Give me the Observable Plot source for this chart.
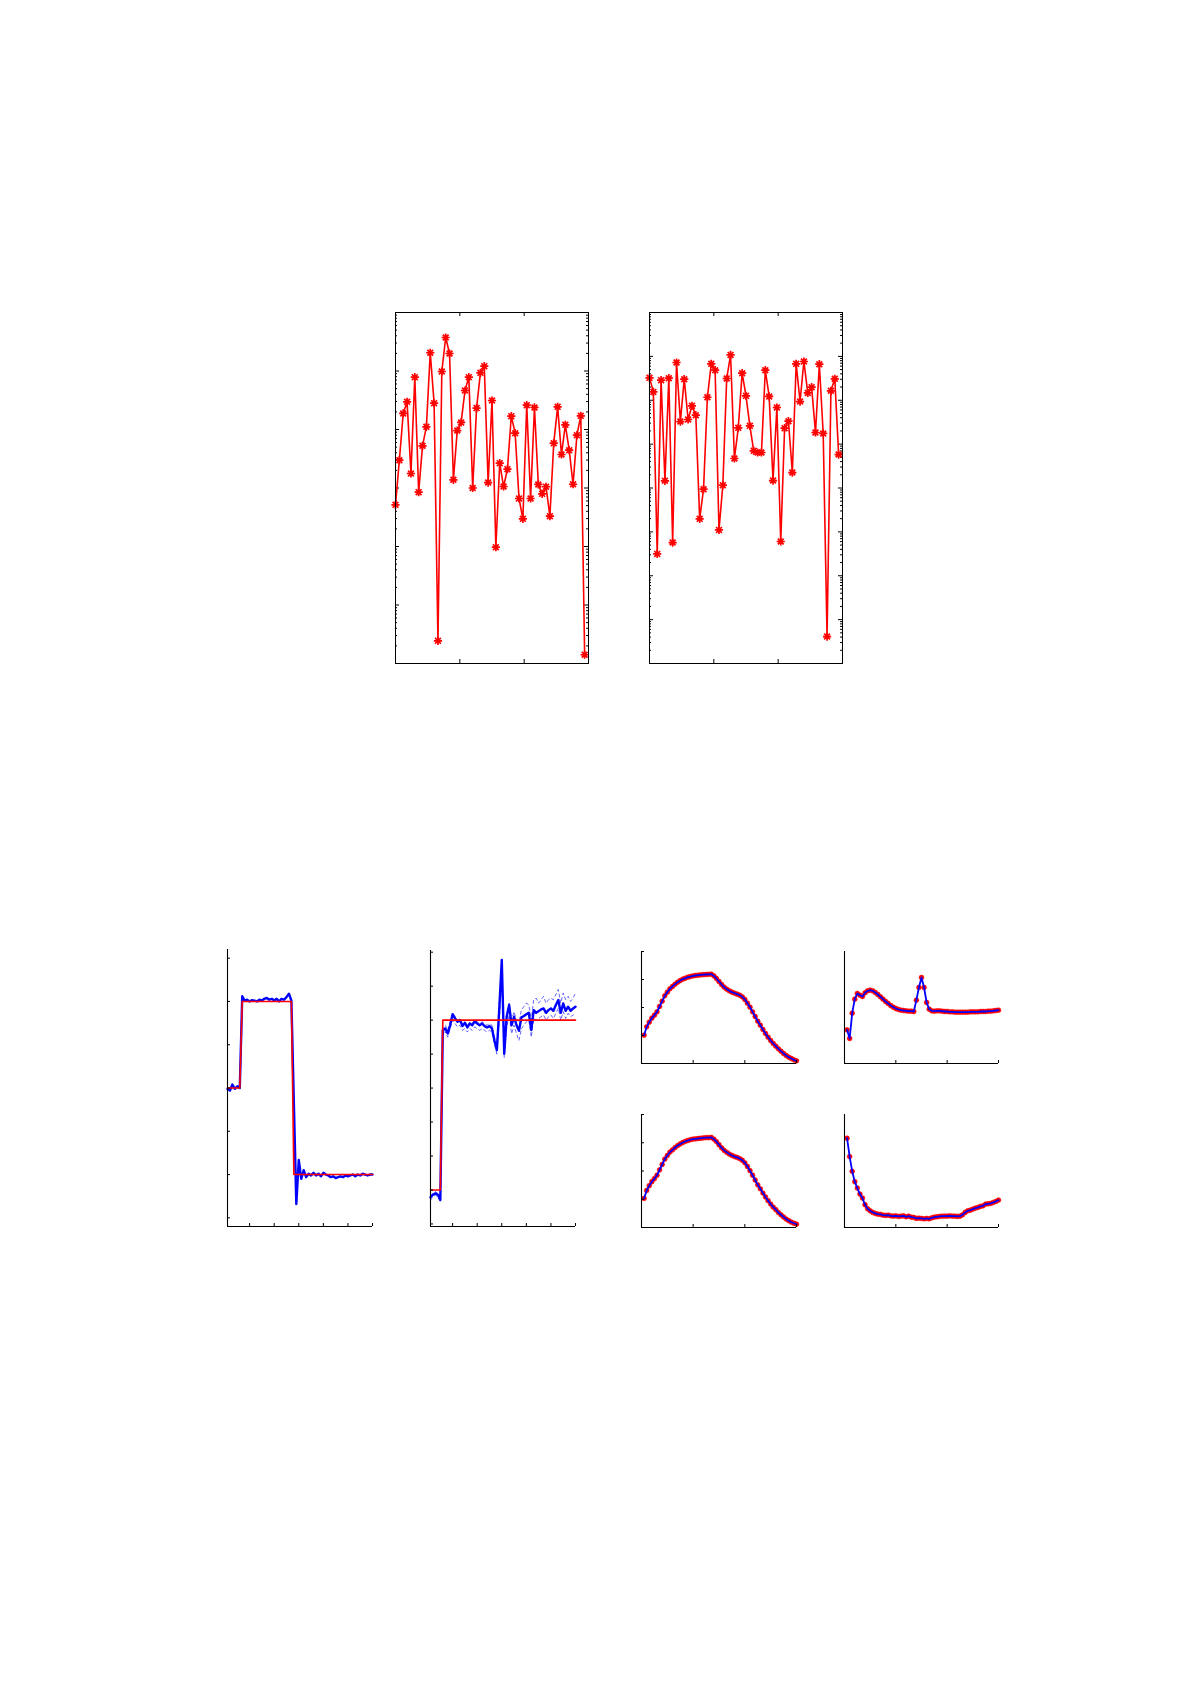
<!DOCTYPE html>
<html><head><meta charset="utf-8">
<script src="https://cdn.jsdelivr.net/npm/d3@7"></script>
<script src="https://cdn.jsdelivr.net/npm/@observablehq/plot@0.6"></script>
<style>
html,body{margin:0;padding:0;background:#fff;}
#page{position:relative;width:1191px;height:1685px;background:#fff;overflow:hidden;}
</style></head>
<body><div id="page"></div>
<script>
// ---------- data ----------
// top row: error per iteration (log scale)
const errLeft = [5.15e-4, 2.99e-3, 1.88e-2, 2.97e-2, 1.77e-3, 7.85e-2, 8.49e-4, 5.26e-3, 1.11e-2, 0.205,
  2.82e-2, 2.44e-6, 9.8e-2, 0.374, 0.199, 1.38e-3, 9.6e-3, 1.32e-2, 4.64e-2, 7.85e-2,
  1.0e-3, 2.32e-2, 9.3e-2, 0.121, 1.24e-3, 3.13e-2, 9.74e-5, 2.66e-3, 1.06e-3, 2.10e-3,
  1.69e-2, 8.65e-3, 6.62e-4, 2.97e-4, 2.61e-2, 6.62e-4, 2.38e-2, 1.15e-3, 7.95e-4, 1.05e-3,
  3.30e-4, 5.84e-3, 2.44e-2, 3.74e-3, 1.20e-2, 4.43e-3, 1.16e-3, 8.0e-3, 1.71e-2, 1.41e-6];
const errRight = [3.24e-2, 1.55e-2, 3.15e-6, 2.87e-2, 1.46e-4, 3.18e-2, 5.71e-6, 7.25e-2, 3.27e-3, 3.02e-2,
  3.64e-3, 7.45e-3, 4.57e-3, 1.98e-5, 9.4e-5, 1.17e-2, 6.76e-2, 4.84e-2, 1.11e-5, 1.16e-4,
  3.13e-2, 0.108, 4.70e-4, 2.35e-3, 4.14e-2, 1.26e-2, 2.61e-3, 7.03e-4, 6.44e-4, 6.44e-4,
  4.84e-2, 1.22e-2, 1.48e-4, 6.83e-3, 6.03e-6, 2.31e-3, 3.33e-3, 2.25e-4, 6.76e-2, 9.35e-3,
  7.64e-2, 1.47e-2, 1.99e-2, 1.84e-3, 6.64e-2, 1.75e-3, 4.11e-8, 1.64e-2, 3.08e-2, 5.79e-4];
const errLeftDomain = [1e-6, 1];
const errRightDomain = [1e-8, 1];
const iterTicks = [50 / 3, 100 / 3];

// bottom row, first two panels: reference step (red) and estimates (blue)
const stepRefA = [0,0,0,0,0,0, 1,1,1,1,1,1,1,1,1,1,1,1,1,1,1,1,1,1,1,1,1,
  -1,-1,-1,-1,-1,-1,-1,-1,-1,-1,-1,-1,-1,-1,-1,-1,-1,-1,-1,-1,-1,-1,-1,-1,-1,-1,-1,-1,-1,-1,-1,-1,-1,-1,-1];
const stepEstA = [-0.01,-0.03,0.04,-0.01,0.02,0.00,
  1.06,1.01,1.02,1.00,1.015,1.01,1.00,1.02,1.01,1.03,1.04,1.02,1.03,1.01,1.03,1.00,1.03,1.02,1.05,1.09,1.01,
  -0.17,-1.34,-0.83,-1.05,-0.95,-1.03,-0.99,-1.01,-0.98,-1.01,-0.99,-1.02,-0.98,-1.00,-1.01,-1.03,-1.02,-1.04,
  -1.03,-1.02,-1.03,-1.01,-1.02,-1.01,-1.00,-1.02,-1.00,-1.01,-0.99,-1.00,-1.01,-1.00,-1.00];
const stepRefB = [0,0,0,0,0, 1,1,1,1,1,1,1,1,1,1,1,1,1,1,1,1,1,1,1,1,1,1,1,1,1,
  1,1,1,1,1,1,1,1,1,1,1,1,1,1,1,1,1,1,1,1,1,1,1,1,1,1,1,1,1,1];
const stepEstB = [-0.043,-0.028,-0.02,-0.028,-0.059,
  0.941,0.951,0.921,0.970,1.035,1.010,0.990,1.0,0.965,0.984,0.957,0.980,0.970,0.994,0.980,
  0.970,0.980,0.965,0.957,0.965,0.951,0.882,0.823,1.069,1.354,0.803,1.020,1.089,0.970,1.020,
  0.970,0.937,1.016,1.024,1.035,1.043,0.941,1.059,1.043,1.053,1.063,1.069,1.043,1.059,1.069,
  1.055,1.089,1.118,1.043,1.098,1.055,1.079,1.055,1.069,1.079];
const stepUpperB = [-0.03,-0.02,-0.01,-0.02,-0.04,
  0.95,0.97,0.94,0.99,1.04,1.02,1.0,1.01,0.98,0.99,0.97,0.99,0.98,1.0,0.99,
  0.98,0.99,0.98,0.97,0.98,0.97,0.9,0.86,1.12,1.3,0.84,1.04,1.1,1.0,1.05,
  1.0,0.99,1.06,1.08,1.1,1.09,1.0,1.12,1.13,1.1,1.12,1.14,1.1,1.12,1.13,
  1.12,1.15,1.18,1.1,1.16,1.12,1.14,1.11,1.13,1.16];
const stepLowerB = [-0.06,-0.04,-0.03,-0.04,-0.07,
  0.93,0.93,0.9,0.95,1.0,0.98,0.96,0.97,0.94,0.95,0.93,0.95,0.94,0.96,0.95,
  0.94,0.95,0.94,0.93,0.94,0.93,0.86,0.8,1.0,1.25,0.78,0.96,1.03,0.92,0.97,
  0.92,0.88,0.95,0.97,0.99,1.0,0.9,1.01,1.0,1.01,1.02,1.03,1.0,1.02,1.03,
  1.01,1.04,1.07,1.0,1.05,1.01,1.04,1.02,1.03,1.04];
const sampleTicks = [10, 20, 30, 40, 50, 60];
const stepTicksA = [-1.5, -1, -0.5, 0, 0.5, 1, 1.5];
const stepTicksB = [-0.2, 0, 0.2, 0.4, 0.6, 0.8, 1.0, 1.2, 1.4];

// bottom row, four small panels
const rampCurve = [1.012,1.310,1.476,1.619,1.726,1.845,2.036,2.226,2.417,2.548,
  2.667,2.750,2.833,2.905,2.964,3.012,3.048,3.083,3.107,3.131,
  3.143,3.155,3.167,3.173,3.179,3.185,3.190,3.131,3.036,2.929,
  2.821,2.726,2.655,2.595,2.548,2.512,2.476,2.440,2.381,2.286,
  2.155,2.012,1.845,1.679,1.512,1.369,1.214,1.071,0.940,0.821,
  0.714,0.619,0.524,0.440,0.357,0.286,0.226,0.179,0.131,0.095];
const rampCurve2 = [1.03,1.31,1.48,1.62,1.73,1.85,2.04,2.23,2.42,2.55,
  2.67,2.75,2.83,2.90,2.96,3.01,3.05,3.08,3.11,3.13,
  3.14,3.15,3.16,3.17,3.18,3.18,3.19,3.13,3.04,2.93,
  2.82,2.73,2.66,2.60,2.55,2.51,2.48,2.44,2.38,2.29,
  2.16,2.01,1.85,1.68,1.51,1.37,1.22,1.08,0.95,0.83,
  0.72,0.63,0.53,0.45,0.37,0.30,0.24,0.19,0.15,0.118];
const peakCurve = [1.202,0.893,1.798,2.298,2.500,2.440,2.393,2.524,2.595,2.619,
  2.595,2.536,2.464,2.381,2.298,2.214,2.143,2.071,2.012,1.964,
  1.929,1.905,1.893,1.881,1.869,1.869,1.857,2.262,2.714,3.071,
  2.714,2.179,1.940,1.881,1.869,1.881,1.881,1.869,1.857,1.857,
  1.845,1.845,1.833,1.833,1.833,1.833,1.833,1.833,1.845,1.845,
  1.845,1.845,1.857,1.857,1.857,1.869,1.869,1.881,1.893,1.905];
const decayCurve = [3.160,2.509,1.988,1.621,1.396,1.183,1.041,0.805,0.663,0.592,
  0.533,0.497,0.473,0.462,0.438,0.426,0.438,0.414,0.402,0.414,
  0.391,0.402,0.414,0.379,0.402,0.367,0.355,0.320,0.331,0.320,
  0.308,0.320,0.308,0.343,0.367,0.379,0.391,0.402,0.402,0.402,
  0.414,0.402,0.402,0.391,0.402,0.450,0.533,0.592,0.615,0.651,
  0.686,0.710,0.746,0.769,0.828,0.840,0.852,0.888,0.923,0.970];
const timeTicks = [1, 2, 3];
const levelTicks = [0, 1, 2, 3, 4];

// ---------- helpers ----------
const page = document.getElementById("page");
const M = 8;
const RED = "#ff0000", BLUE = "#0000ff";

function panel({left, top, w, h, x, y, marks}) {
  const svg = Plot.plot({
    width: w + 2 * M, height: h + 2 * M,
    marginTop: M, marginBottom: M, marginLeft: M, marginRight: M,
    x: {...x, axis: null}, y: {...y, axis: null},
    style: {background: "transparent", overflow: "visible"},
    marks
  });
  svg.style.position = "absolute";
  svg.style.left = (left - M) + "px";
  svg.style.top = (top - M) + "px";
  page.appendChild(svg);
}
const tickStyle = {stroke: "#000", strokeWidth: 1};
const ticksBottom = (v, h, len) => Plot.tickX(v, {x: d => d, insetTop: h - len, ...tickStyle});
const ticksTop = (v, h, len) => Plot.tickX(v, {x: d => d, insetBottom: h - len, ...tickStyle});
const ticksLeft = (v, w, len) => Plot.tickY(v, {y: d => d, insetRight: w - len, ...tickStyle});
const ticksRight = (v, w, len) => Plot.tickY(v, {y: d => d, insetLeft: w - len, ...tickStyle});

const asterisk = {
  draw(ctx, size) {
    const r = Math.sqrt(size / Math.PI), d = r * Math.SQRT1_2;
    ctx.moveTo(-r, 0); ctx.lineTo(r, 0);
    ctx.moveTo(0, -r); ctx.lineTo(0, r);
    ctx.moveTo(-d, -d); ctx.lineTo(d, d);
    ctx.moveTo(-d, d); ctx.lineTo(d, -d);
  }
};

function logTicks(domain) {
  const lo = Math.round(Math.log10(domain[0])), hi = Math.round(Math.log10(domain[1]));
  const major = [], minor = [];
  for (let e = lo; e <= hi; e++) {
    major.push(Math.pow(10, e));
    if (e < hi) for (let m = 2; m <= 9; m++) minor.push(m * Math.pow(10, e));
  }
  return {major, minor};
}

function errorPanel(left, top, values, domain) {
  const w = 193, h = 351;
  const data = values.map((v, i) => ({i, v}));
  const {major, minor} = logTicks(domain);
  panel({
    left, top, w, h,
    x: {domain: [0, 50]},
    y: {type: "log", domain},
    marks: [
      ticksBottom(iterTicks, h, 4), ticksTop(iterTicks, h, 4),
      ticksLeft(major, w, 4), ticksRight(major, w, 4),
      ticksLeft(minor, w, 2), ticksRight(minor, w, 2),
      Plot.line(data, {x: "i", y: "v", stroke: RED, strokeWidth: 1.6, strokeLinejoin: "round"}),
      Plot.dot(data, {x: "i", y: "v", symbol: asterisk, r: 4.1, fill: "none", stroke: RED, strokeWidth: 1.7}),
      Plot.frame({stroke: "#000", strokeWidth: 1})
    ]
  });
}

function stepPanel(left, top, w, h, ref, est, dashed, domain, yTicks) {
  const k = d3.range(1, 61);
  const rows = arr => arr.map((v, i) => ({k: k[i], v}));
  const marks = [];
  for (const arr of dashed) marks.push(Plot.line(rows(arr), {x: "k", y: "v", stroke: BLUE, strokeWidth: 0.8, strokeDasharray: "3,3", strokeOpacity: 0.75}));
  marks.push(
    Plot.line(rows(est), {x: "k", y: "v", stroke: BLUE, strokeWidth: 2.4, strokeLinejoin: "round"}),
    Plot.line(rows(ref), {x: "k", y: "v", stroke: RED, strokeWidth: 1.6}),
    ticksBottom(sampleTicks, h, 3), ticksLeft(yTicks, w, 3),
    Plot.ruleX([1], {stroke: "#000", strokeWidth: 1.1}),
    Plot.ruleY([domain[0]], {stroke: "#000", strokeWidth: 1.1})
  );
  panel({left, top, w, h, x: {domain: [1, 60]}, y: {domain}, marks});
}

const tGrid = d3.range(1, 61).map(i => i * 0.05);
function smallPanel(left, top, w, h, curve, yTicks) {
  const data = curve.map((v, i) => ({t: tGrid[i], v}));
  panel({
    left, top, w, h,
    x: {domain: [0, 3]}, y: {domain: [0, 4]},
    marks: [
      Plot.dot(data, {x: "t", y: "v", r: 2.4, fill: RED, stroke: RED, strokeWidth: 0.6}),
      Plot.line(data, {x: "t", y: "v", stroke: BLUE, strokeWidth: 1.8, strokeLinejoin: "round"}),
      ticksBottom(timeTicks, h, 3),
      ...(yTicks ? [ticksLeft(yTicks, w, 3)] : []),
      Plot.ruleX([0], {stroke: "#000", strokeWidth: 1.1}),
      Plot.ruleY([0], {stroke: "#000", strokeWidth: 1.1})
    ]
  });
}

// ---------- draw ----------
errorPanel(395, 312, errLeft, errLeftDomain);
errorPanel(649, 312, errRight, errRightDomain);

stepPanel(227, 949, 145, 277, stepRefA, stepEstA, [], [-1.6, 1.6], stepTicksA);
stepPanel(430, 950, 145, 276, stepRefB, stepEstB, [stepUpperB, stepLowerB], [-0.215, 1.41], stepTicksB);

smallPanel(641, 951, 155, 112, rampCurve, levelTicks);
smallPanel(844, 951, 154, 112, peakCurve, null);
smallPanel(641, 1114, 155, 113, rampCurve2, levelTicks);
smallPanel(844, 1114, 154, 113, decayCurve, null);
</script>
</body></html>
